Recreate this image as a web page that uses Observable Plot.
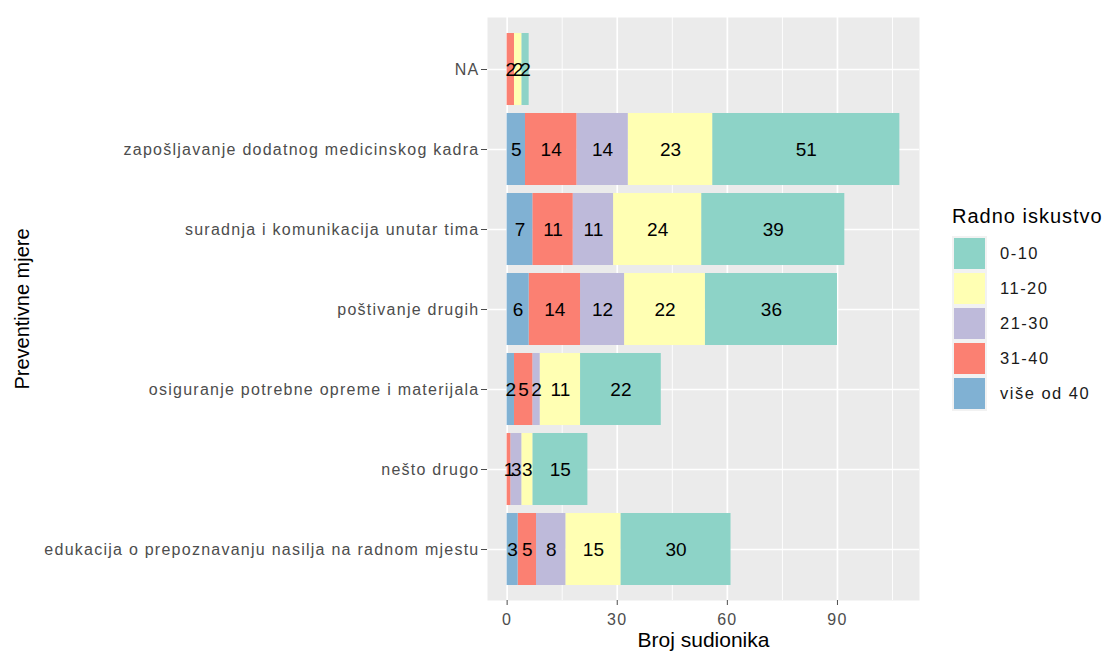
<!DOCTYPE html>
<html>
<head>
<meta charset="utf-8">
<script src="https://cdn.jsdelivr.net/npm/d3@7"></script>
<script src="https://cdn.jsdelivr.net/npm/@observablehq/plot@0.6"></script>
<style>
  body { margin: 0; background: #fff; font-family: "Liberation Sans", Arial, sans-serif; }
  #wrap { position: relative; width: 1107px; height: 657px; }
  #chart svg { display: block; }
  svg g[aria-label="y-axis tick label"], svg g[aria-label="x-axis tick label"] { letter-spacing: 1.25px; }
  svg g[aria-label="barlabels"] { letter-spacing: 1.4px; }
  svg g[aria-label="xtitle"] { letter-spacing: 1.4px; }
  svg g[aria-label="ytitle"] { letter-spacing: 0.6px; }
  #legend { position: absolute; left: 952px; top: 203px; color: #000; }
  #legend .title { font-size: 20px; letter-spacing: 1px; height: 33px; line-height: 26px; }
  #legend .item { display: flex; align-items: center; height: 35px; }
  #legend .key { width: 31px; height: 31px; border: 2px solid #F2F2F2; box-sizing: content-box; margin-left: 0px; }
  #legend .lab { margin-left: 13px; font-size: 16.5px; letter-spacing: 1.5px; color: #1a1a1a; }
</style>
</head>
<body>
<div id="wrap">
  <div id="chart"></div>
  <div id="legend"></div>
</div>
<script>
const categories = [
  "NA",
  "zapošljavanje dodatnog medicinskog kadra",
  "suradnja i komunikacija unutar tima",
  "poštivanje drugih",
  "osiguranje potrebne opreme i materijala",
  "nešto drugo",
  "edukacija o prepoznavanju nasilja na radnom mjestu"
];
const groups = ["0-10", "11-20", "21-30", "31-40", "više od 40"];
const groupColors = ["#8DD3C7", "#FFFFB3", "#BEBADA", "#FB8072", "#80B1D3"];
const stackOrder = ["više od 40", "31-40", "21-30", "11-20", "0-10"];

const v0_10  = [2, 51, 39, 36, 22, 15, 30];
const v11_20 = [2, 23, 24, 22, 11, 3, 15];
const v21_30 = [null, 14, 11, 12, 2, 3, 8];
const v31_40 = [2, 14, 11, 14, 5, 1, 5];
const v40    = [null, 5, 7, 6, 2, null, 3];

const xTicks = [0, 30, 60, 90];
const xMinor = [15, 45, 75, 105];

const series = [v0_10, v11_20, v21_30, v31_40, v40];
const data = [];
groups.forEach((g, gi) => {
  categories.forEach((c, ci) => {
    const v = series[gi][ci];
    if (v != null) data.push({measure: c, group: g, value: v});
  });
});

const maxTotal = d3.max(categories, c => d3.sum(data.filter(d => d.measure === c), d => d.value));
const pad = maxTotal * 0.05;

const chart = Plot.plot({
  width: 1107,
  height: 657,
  marginLeft: 487,
  marginRight: 188,
  marginTop: 17,
  marginBottom: 57,
  style: {fontFamily: "'Liberation Sans', Arial, sans-serif", background: "#fff"},
  x: {domain: [-pad, maxTotal + pad]},
  y: {domain: categories, paddingInner: 0.1, paddingOuter: 0.15, align: 0.5},
  color: {domain: groups, range: groupColors},
  marks: [
    Plot.frame({fill: "#EBEBEB", stroke: null}),
    Plot.gridX({ticks: xMinor, stroke: "#fff", strokeOpacity: 1, strokeWidth: 0.9}),
    Plot.gridX({ticks: xTicks, stroke: "#fff", strokeOpacity: 1, strokeWidth: 1.7}),
    Plot.gridY({stroke: "#fff", strokeOpacity: 1, strokeWidth: 1.7}),
    Plot.barX(data, Plot.stackX({x: "value", y: "measure", fill: "group", z: "group", order: stackOrder})),
    Plot.text(data, Plot.stackX({x: "value", y: "measure", z: "group", order: stackOrder, text: d => String(d.value), fill: "#000", fontSize: 19, ariaLabel: "barlabels"})),
    Plot.axisX({ticks: xTicks, tickSize: 5, tickPadding: 8, fontSize: 16, color: "#4D4D4D", label: null}),
    Plot.axisY({tickSize: 6, tickPadding: 2, fontSize: 16, color: "#4D4D4D", label: null}),
    Plot.text(["Broj sudionika"], {frameAnchor: "bottom", dy: 46, fontSize: 21, fill: "#000", ariaLabel: "xtitle"}),
    Plot.text(["Preventivne mjere"], {frameAnchor: "left", textAnchor: "middle", dx: -465, rotate: -90, fontSize: 20, fill: "#000", ariaLabel: "ytitle"})
  ]
});
document.getElementById("chart").appendChild(chart);

const legend = document.getElementById("legend");
const t = document.createElement("div");
t.className = "title";
t.textContent = "Radno iskustvo";
legend.appendChild(t);
groups.forEach((g, i) => {
  const item = document.createElement("div");
  item.className = "item";
  const k = document.createElement("div");
  k.className = "key";
  k.style.background = groupColors[i];
  const l = document.createElement("div");
  l.className = "lab";
  l.textContent = g;
  item.appendChild(k);
  item.appendChild(l);
  legend.appendChild(item);
});
</script>
</body>
</html>
